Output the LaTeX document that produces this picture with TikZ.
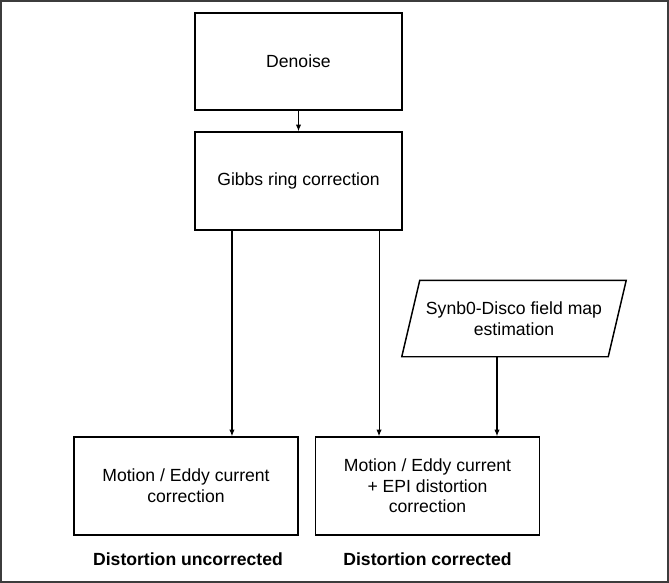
\documentclass[tikz,border=0pt]{standalone}
\usepackage{fontspec}
\setmainfont{Liberation Sans}
\usepackage{xcolor}
\usepackage{tikz}
\usetikzlibrary{arrows.meta}
\definecolor{framegray}{RGB}{60,60,60}

\tikzset{
    stepbox/.style={draw=black, line width=1.1pt, align=center, inner sep=4pt,
        font=\fontsize{13.2}{15.5}\selectfont},
    flowarrow/.style={line width=0.8pt, -{Latex[length=5pt,width=4pt]}}
}

\begin{document}
\begin{tikzpicture}[x=0.75pt,y=-0.75pt]
        \useasboundingbox (0,0) rectangle (669,583);
        \draw[framegray, line width=1.3pt] (1,1) rectangle (668,582);

        % pipeline steps
        \node[stepbox, minimum width=155.25pt, minimum height=72.75pt] (denoise) at (298.5,61.5) {Denoise};
        \node[stepbox, minimum width=155.25pt, minimum height=73.5pt] (gibbs) at (298.5,181) {Gibbs ring correction};
        \node[stepbox, draw=none, minimum width=153.75pt, minimum height=56.25pt] (synb0) at (514,318.5) {Synb0-Disco field map\\estimation};
        \draw[line width=1.1pt] ([xshift=6.75pt]synb0.north west) -- ([xshift=6.75pt]synb0.north east)
            -- ([xshift=-6.75pt]synb0.south east) -- ([xshift=-6.75pt]synb0.south west) -- cycle;
        \node[stepbox, minimum width=168pt, minimum height=73.5pt] (eddy) at (186,486) {Motion / Eddy current\\correction};
        \node[stepbox, minimum width=168pt, minimum height=73.5pt] (eddyepi) at (427.5,486) {Motion / Eddy current\\+ EPI distortion\\correction};

        % branch labels
        \node[font=\fontsize{13.2}{15.5}\selectfont\bfseries] (uncorr) at (188,559) {Distortion uncorrected};
        \node[font=\fontsize{13.2}{15.5}\selectfont\bfseries] (corr) at (427.5,559) {Distortion corrected};

        \draw[flowarrow] (denoise.south) -- (gibbs.north);
        \draw[flowarrow] ([xshift=-49.9pt]gibbs.south) -- ([xshift=-49.9pt]gibbs.south |- eddy.north);
        \draw[flowarrow] ([xshift=60.4pt]gibbs.south) -- ([xshift=60.4pt]gibbs.south |- eddyepi.north);
        \draw[flowarrow] ([xshift=-12.75pt]synb0.south) -- ([xshift=-12.75pt]synb0.south |- eddyepi.north);
    \end{tikzpicture}
\end{document}
